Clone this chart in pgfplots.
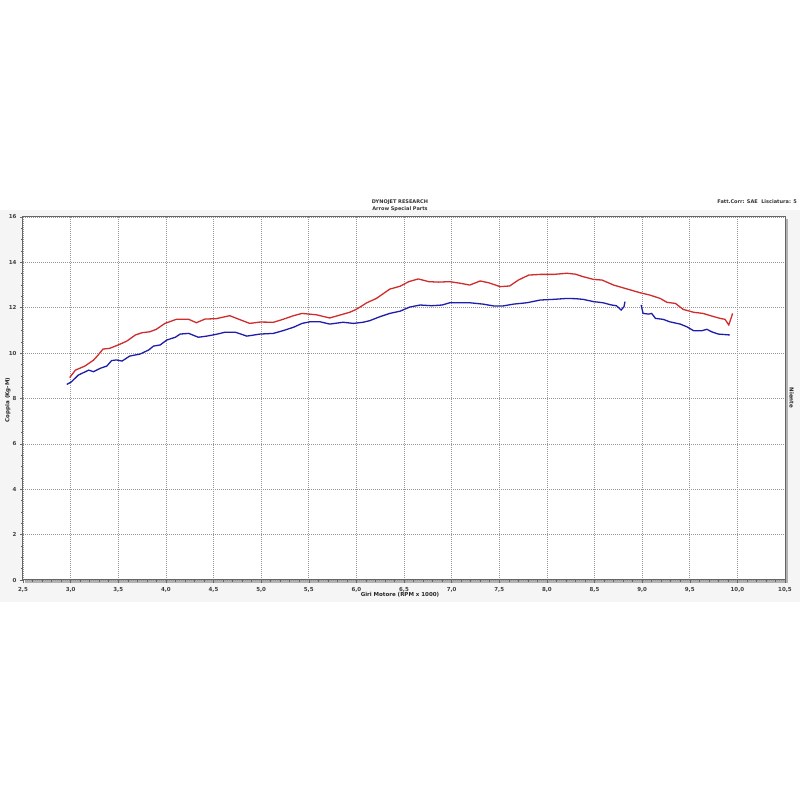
\documentclass[border=0pt]{standalone}
\usepackage{pgfplots}
\pgfplotsset{compat=1.18}
\usepackage{pgfplotstable}
\usepackage{fontspec}
\setmainfont{DejaVu Sans}
\definecolor{dynored}{RGB}{208,44,44}
\definecolor{dynoblue}{RGB}{30,30,170}
\pgfplotstableread{
x y
2.99 8.92
3.05 9.25
3.15 9.43
3.24 9.69
3.29 9.92
3.34 10.18
3.41 10.21
3.50 10.36
3.59 10.53
3.68 10.80
3.75 10.90
3.83 10.94
3.90 11.05
3.99 11.31
4.11 11.49
4.24 11.49
4.32 11.34
4.41 11.50
4.53 11.52
4.67 11.65
4.78 11.47
4.88 11.31
4.99 11.37
5.13 11.36
5.23 11.49
5.34 11.65
5.43 11.75
5.58 11.69
5.72 11.55
5.83 11.68
5.93 11.80
6.00 11.93
6.11 12.22
6.21 12.41
6.35 12.82
6.46 12.95
6.55 13.15
6.65 13.27
6.76 13.15
6.86 13.13
6.98 13.15
7.09 13.08
7.19 13.00
7.30 13.18
7.39 13.10
7.51 12.93
7.61 12.96
7.70 13.22
7.81 13.44
7.93 13.47
8.07 13.47
8.21 13.52
8.30 13.48
8.38 13.37
8.49 13.25
8.58 13.22
8.70 13.00
8.84 12.83
8.98 12.66
9.08 12.56
9.19 12.41
9.26 12.24
9.35 12.19
9.43 11.93
9.54 11.80
9.64 11.75
9.75 11.61
9.82 11.53
9.87 11.49
9.91 11.24
9.95 11.75
}\redtable
\pgfplotstableread{
x y
2.96 8.62
3.01 8.74
3.08 9.03
3.19 9.25
3.24 9.18
3.31 9.33
3.38 9.43
3.43 9.67
3.48 9.70
3.54 9.65
3.62 9.87
3.73 9.96
3.82 10.14
3.87 10.31
3.94 10.36
4.01 10.58
4.10 10.70
4.15 10.84
4.24 10.87
4.34 10.70
4.43 10.75
4.53 10.83
4.62 10.92
4.73 10.92
4.85 10.75
4.99 10.84
5.13 10.87
5.23 10.99
5.34 11.14
5.43 11.31
5.51 11.38
5.62 11.38
5.72 11.28
5.86 11.36
5.97 11.31
6.07 11.36
6.14 11.43
6.25 11.61
6.35 11.75
6.46 11.85
6.56 12.03
6.67 12.12
6.79 12.09
6.90 12.12
6.98 12.22
7.19 12.22
7.33 12.16
7.44 12.08
7.54 12.08
7.65 12.16
7.79 12.22
7.93 12.34
8.07 12.37
8.21 12.41
8.30 12.40
8.38 12.37
8.49 12.27
8.59 12.22
8.68 12.12
8.73 12.09
8.78 11.90
8.81 12.05
8.82 12.27
}\bluetableA
\pgfplotstableread{
x y
8.99 12.12
9.01 11.75
9.07 11.72
9.10 11.75
9.14 11.53
9.22 11.49
9.29 11.38
9.40 11.28
9.47 11.16
9.54 10.99
9.63 10.99
9.68 11.05
9.73 10.94
9.80 10.84
9.92 10.80
}\bluetableB
\begin{document}
\begin{tikzpicture}
\path[use as bounding box] (-23pt,-220pt) rectangle (777pt,580pt);
\fill[black!4] (-23pt,-22pt) rectangle (777pt,384pt);
\fill[white] (-23pt,370pt) rectangle (777pt,384pt);
\draw[black!30, line width=2.5pt] (2pt,-1.5pt) -- (763.5pt,-1.5pt) -- (763.5pt,361pt);
\begin{axis}[
  at={(0pt,0pt)}, anchor=south west,
  scale only axis, width=762pt, height=363pt,
  xmin=2.5, xmax=10.5, ymin=0, ymax=16,
  xtick={2.5,3,...,10.5}, ytick={0,2,...,16},
  minor x tick num=4, minor y tick num=3,
  xtick pos=bottom, ytick pos=left,
  tick align=outside,
  major tick length=3pt, minor tick length=2pt,
  every tick/.style={black!60, line width=0.5pt},
  grid=major,
  major grid style={black!40, dash pattern=on 1pt off 1pt, line width=0.6pt},
  axis line style={black!60, line width=1pt},
  axis background/.style={fill=white},
  /pgf/number format/assume math mode=true,
  tick label style={font=\fontsize{5.5}{6}\selectfont\bfseries, text=black!75},
  xticklabel style={/pgf/number format/.cd, fixed, fixed zerofill, precision=1, use comma},
  yticklabel style={/pgf/number format/.cd, fixed, precision=0},
  xticklabel shift=1pt, yticklabel shift=0pt,
]
\addplot[dynored, line width=1.3pt] table[x=x,y=y] {\redtable};
\addplot[dynoblue, line width=1.3pt] table[x=x,y=y] {\bluetableA};
\addplot[dynoblue, line width=1.3pt] table[x=x,y=y] {\bluetableB};
\end{axis}
\node[font=\fontsize{5}{6}\selectfont\bfseries, text=black!80] at (377pt,378.3pt) {DYNOJET RESEARCH};
\node[font=\fontsize{5}{6}\selectfont\bfseries, text=black!80] at (377pt,371pt) {Arrow Special Parts};
\node[font=\fontsize{5}{6}\selectfont\bfseries, text=black!80, anchor=east, inner sep=0pt] at (774pt,378.3pt) {Fatt.Corr: SAE\ \ Lisciatura: 5};
\node[font=\fontsize{5.5}{6}\selectfont\bfseries, text=black!85] at (377pt,-15pt) {Giri Motore (RPM x 1000)};
\node[font=\fontsize{5.5}{6}\selectfont\bfseries, text=black!85, rotate=90] at (-15pt,180pt) {Coppia (Kg-M)};
\node[font=\fontsize{5.5}{6}\selectfont\bfseries, text=black!85, rotate=-90] at (768.7pt,182pt) {Niente};
\end{tikzpicture}
\end{document}
